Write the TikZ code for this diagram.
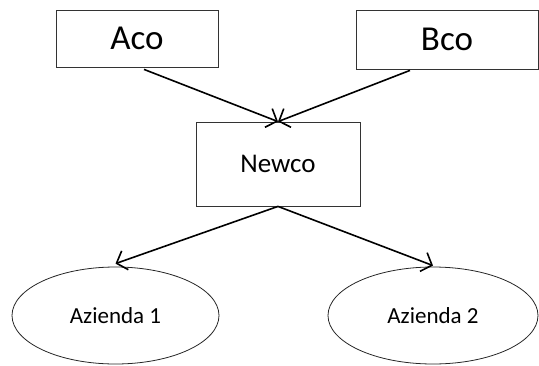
\documentclass[tikz,border=0pt]{standalone}
\usepackage{fontspec}
\setmainfont{Carlito}
\usepackage{tikz}
\usetikzlibrary{shapes.geometric, arrows.meta, positioning}
\tikzset{
  company/.style={rectangle, draw=black!80, line width=0.8pt, inner sep=0pt,
                  minimum width=#1, align=center},
  company/.default=162pt,
  firm/.style={ellipse, draw=black!85, line width=0.8pt, inner sep=0pt,
               minimum height=97pt, minimum width=#1,
               font=\fontsize{23}{27}\selectfont},
  firm/.default=207pt,
  arrow/.style={-{Straight Barb[length=9pt, width=20pt, line width=1.6pt]},
                line width=1.6pt, color=black},
}

\begin{document}
\begin{tikzpicture}[x=1pt, y=-1pt]
  \useasboundingbox (0,0) rectangle (539,365);
  % top companies
  \node[company, minimum height=57pt, font=\fontsize{35}{42}\selectfont] (aco) at (137,38.5) {Aco};
  \node[company=182pt, minimum height=59pt, font=\fontsize{35}{42}\selectfont] (bco) at (447,39.5) {Bco};
  % merged company
  \node[company=164pt, minimum height=84pt, font=\fontsize{27}{32}\selectfont] (newco) at (278,164) {Newco};
  % businesses
  \node[firm] (az1) at (115.5,315.5) {Azienda 1};
  \node[firm=210pt] (az2) at (433,315.5) {Azienda 2};

  \draw[arrow] ([xshift=7pt, yshift=-2pt]aco.south) -- (newco.north);
  \draw[arrow] ([xshift=-37pt, yshift=-1pt]bco.south) -- (newco.north);
  \draw[arrow] (newco.south) -- ([yshift=3pt]az1.north);
  \draw[arrow] (newco.south) -- ([yshift=1pt]az2.north);
\end{tikzpicture}
\end{document}
